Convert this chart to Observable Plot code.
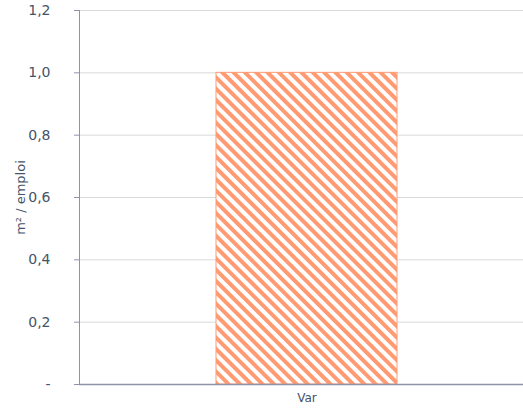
<!DOCTYPE html>
<html>
<head>
<meta charset="utf-8">
<script src="https://cdn.jsdelivr.net/npm/d3@7"></script>
<script src="https://cdn.jsdelivr.net/npm/@observablehq/plot@0.6"></script>
<style>
  html, body { margin: 0; padding: 0; background: #ffffff; overflow: hidden; }
</style>
</head>
<body>
<div id="chart"></div>
<script>
const categories = ["Var"];
const values = [1.0];
const yTicks = [0, 0.2, 0.4, 0.6, 0.8, 1.0, 1.2];
const yLabel = "m² / emploi";

const data = categories.map((c, i) => ({cat: c, value: values[i]}));
const textColor = "#44546a";
const axisColor = "#8f93a9";
const hatchColor = "#ff9a72";

const chart = Plot.plot({
  width: 523,
  height: 410,
  marginLeft: 79,
  marginRight: -10,
  marginTop: 10,
  marginBottom: 26,
  style: {fontFamily: "DejaVu Sans, Verdana, sans-serif", fontSize: "13px", color: textColor, background: "#ffffff", overflow: "visible"},
  x: {domain: categories, padding: 0.43, label: null},
  y: {domain: [0, 1.2], label: null},
  marks: [
    Plot.gridY(yTicks, {stroke: "#d9d9d9", strokeOpacity: 1}),
    Plot.barY(data, {x: "cat", y: "value", fill: "url(#hatch)", stroke: hatchColor, strokeWidth: 1}),
    Plot.axisY(yTicks, {
      tickSize: 5, tickPadding: 24, stroke: axisColor, fill: textColor, fontSize: 14,
      tickFormat: d => d === 0 ? "-" : d.toFixed(1).replace(".", ","),
      label: null
    }),
    Plot.axisX({tickSize: 0, tickPadding: 9, fill: textColor, label: null, fontSize: 12}),
    Plot.frame({anchor: "left", stroke: axisColor}),
    Plot.ruleY([0], {stroke: axisColor, strokeWidth: 1.5}),
    Plot.text([yLabel], {frameAnchor: "left", textAnchor: "middle", rotate: -90, dx: -59, fill: textColor, fontSize: 13})
  ]
});

const svg = d3.select(chart);
const defs = svg.insert("defs", ":first-child");
const pat = defs.append("pattern")
  .attr("id", "hatch")
  .attr("patternUnits", "userSpaceOnUse")
  .attr("width", 8)
  .attr("height", 8)
  .attr("patternTransform", "rotate(-45)");
pat.append("rect").attr("width", 8).attr("height", 8).attr("fill", "#ffffff");
pat.append("rect").attr("x", 0).attr("y", 0).attr("width", 4).attr("height", 8).attr("fill", hatchColor);

document.getElementById("chart").appendChild(chart);
</script>
</body>
</html>
